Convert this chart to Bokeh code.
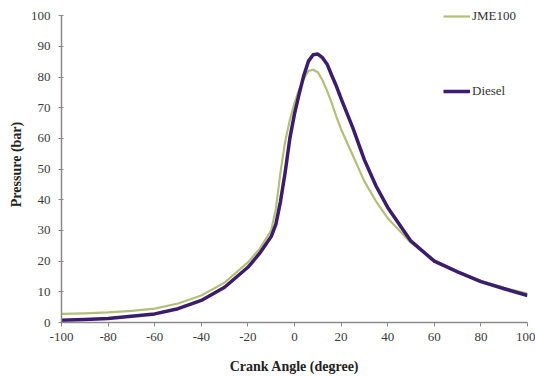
from bokeh.plotting import figure
from bokeh.models import Range1d, Legend, LegendItem, FixedTicker
from bokeh.embed import file_html
from bokeh.resources import INLINE

crank_angle = [-100, -90, -80, -70, -60, -50, -40, -30, -20, -15, -10, -8, -6, -4, -2, 0,
               2, 4, 6, 8, 10, 12, 14, 16, 18, 20, 25, 30, 35, 40, 50, 60, 70, 80, 90, 100]
diesel = [0.7, 1.0, 1.3, 2.0, 2.8, 4.5, 7.2, 11.5, 18.0, 22.5, 28.0, 32.0, 39.5, 49.0, 60.0, 68.0,
          74.5, 80.5, 85.2, 87.3, 87.5, 86.3, 84.2, 80.5, 77.0, 73.0, 63.5, 53.0, 44.5, 37.5,
          26.5, 20.0, 16.5, 13.3, 11.0, 8.8]
jme100 = [2.8, 3.0, 3.3, 3.8, 4.5, 6.2, 8.8, 13.0, 19.6, 24.0, 30.0, 37.0, 49.0, 59.0, 66.0, 71.5,
          76.0, 79.5, 82.0, 82.4, 81.6, 79.0, 75.5, 71.5, 67.0, 63.0, 54.5, 46.0, 39.5, 34.0,
          26.0, 20.3, 16.6, 13.6, 11.3, 9.4]
x_ticks = list(range(-100, 101, 20))
y_ticks = list(range(0, 101, 10))
x_tick_labels = {t: str(t) for t in x_ticks}

p = figure(width=535, height=376, output_backend="svg", toolbar_location=None,
           x_range=Range1d(-100, 100), y_range=Range1d(0, 103),
           min_border_left=61, min_border_right=8, min_border_top=6, min_border_bottom=54)
p.outline_line_color = None
p.xgrid.visible = False
p.ygrid.visible = False
p.background_fill_color = "white"
p.border_fill_color = "white"

g = p.line(crank_angle, jme100, line_color="#b2bf78", line_width=2.2, line_join="round")
d = p.line(crank_angle, diesel, line_color="#3b1d6b", line_width=3.5, line_join="round")

for ax in (p.xaxis[0], p.yaxis[0]):
    ax.axis_line_color = "#8a8a8a"
    ax.axis_line_width = 1.5
    ax.major_tick_line_color = "#8a8a8a"
    ax.minor_tick_line_color = None
    ax.major_label_text_font = "Liberation Serif"
    ax.major_label_text_font_size = "13px"
    ax.major_label_text_color = "#3a3a3a"
    ax.axis_label_text_font = "Liberation Serif"
    ax.axis_label_text_font_style = "bold"
    ax.axis_label_text_font_size = "14px"
    ax.axis_label_text_color = "#222222"

p.xaxis.ticker = FixedTicker(ticks=x_ticks)
p.yaxis.ticker = FixedTicker(ticks=y_ticks)
p.xaxis.major_label_overrides = x_tick_labels
p.yaxis.bounds = (0, 100)
p.xaxis.major_tick_in = 0
p.xaxis.major_tick_out = 4
p.yaxis.major_tick_in = 2
p.yaxis.major_tick_out = 3
p.xaxis.major_label_standoff = 6
p.yaxis.major_label_standoff = 8
p.xaxis.axis_label = "Crank Angle (degree)"
p.yaxis.axis_label = "Pressure (bar)"
p.xaxis.axis_label_standoff = 15
p.yaxis.axis_label_standoff = 4

legend = Legend(items=[LegendItem(label="JME100", renderers=[g]),
                       LegendItem(label="Diesel", renderers=[d])],
                location=(382, 223), orientation="vertical",
                glyph_width=27, glyph_height=16, label_height=16, spacing=59,
                label_standoff=2, padding=0, margin=0,
                border_line_color=None, background_fill_alpha=0,
                label_text_font="Liberation Serif", label_text_font_size="13px",
                label_text_color="#333333")
p.add_layout(legend, "center")

open("out.html", "w").write(file_html(p, INLINE))
